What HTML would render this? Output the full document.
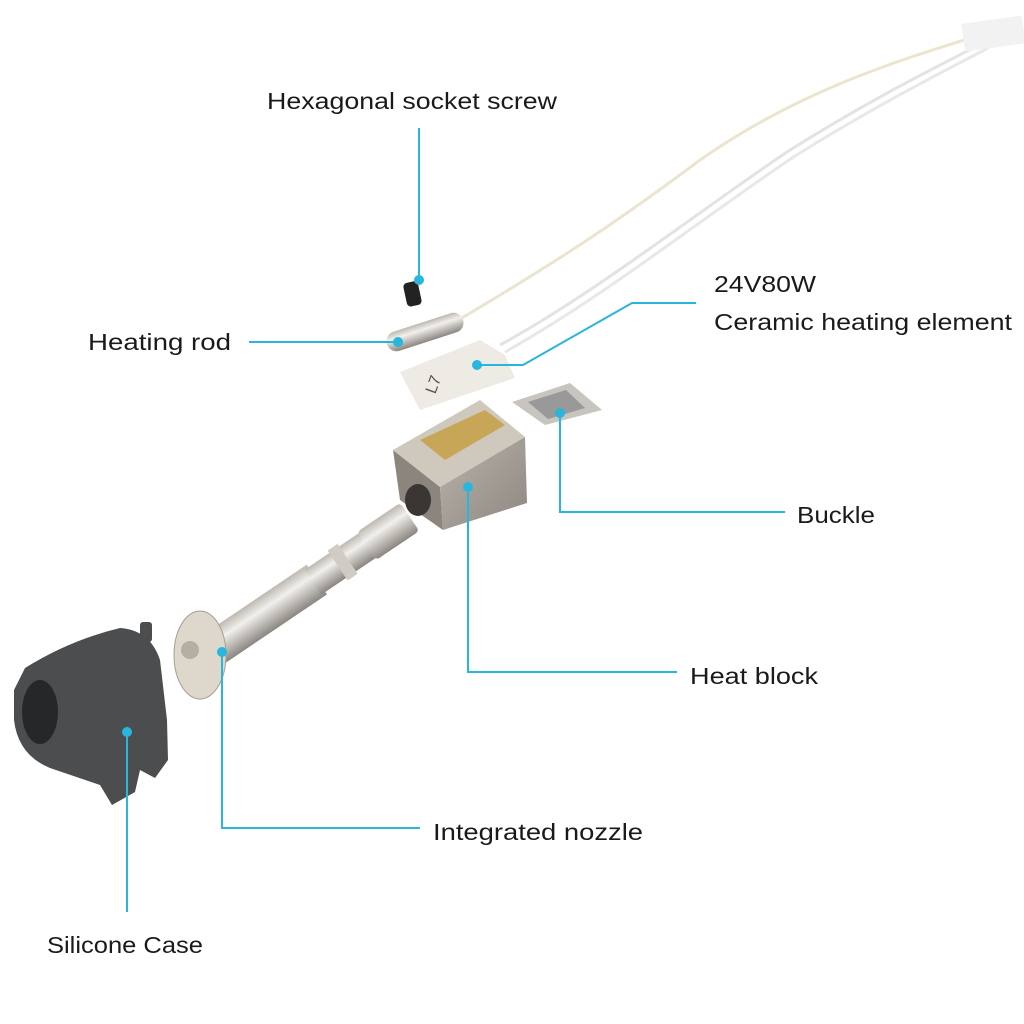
<!DOCTYPE html>
<html><head><meta charset="utf-8"><style>
html,body{margin:0;padding:0;background:#fff;}
svg{display:block}
text{font-family:"Liberation Sans",sans-serif;fill:#1a1a1a;font-size:23px}
</style></head><body>
<svg width="1024" height="1024" viewBox="0 0 1024 1024">
<defs>
<linearGradient id="metal" x1="0" y1="0" x2="0" y2="1">
<stop offset="0" stop-color="#bdb8b1"/><stop offset="0.35" stop-color="#f2f0ec"/><stop offset="1" stop-color="#8a857f"/></linearGradient>
<linearGradient id="blk" x1="0" y1="0" x2="1" y2="1">
<stop offset="0" stop-color="#b9b3ac"/><stop offset="1" stop-color="#8e8780"/></linearGradient>
</defs>
<!-- wires -->
<path d="M455 322 C560 260 620 220 700 160 C800 90 900 60 980 35" stroke="#ebe5cf" stroke-width="3" fill="none"/>
<path d="M500 345 C600 290 700 210 790 150 C870 100 930 70 985 42" stroke="#e3e3e3" stroke-width="3" fill="none"/>
<path d="M505 352 C605 296 705 216 795 156 C875 106 935 76 988 48" stroke="#e8e8e8" stroke-width="3" fill="none"/>
<rect x="963" y="20" width="61" height="28" fill="#f2f2f2" transform="rotate(-8 990 34)"/>
<!-- screw -->
<rect x="405" y="282" width="15" height="24" rx="4" fill="#222" transform="rotate(-12 412 294)"/>
<!-- heating rod -->
<rect x="385" y="322" width="80" height="20" rx="10" fill="url(#metal)" transform="rotate(-18 425 332)"/>
<!-- ceramic -->
<polygon points="400,372 480,340 505,355 515,378 420,410" fill="#eeebe4"/>
<text x="425" y="392" style="font-size:16px;fill:#555" transform="rotate(-70 432 386)">L7</text>
<!-- buckle -->
<polygon points="512,402 570,383 602,410 545,425" fill="#c8c4bf"/>
<polygon points="528,402 566,390 585,408 548,419" fill="#999"/>
<!-- heat block -->
<polygon points="393,450 400,500 443,530 440,487" fill="#8c857e"/>
<polygon points="393,450 440,487 525,437 480,400" fill="#cfc8bd"/>
<polygon points="420,440 445,460 505,425 485,410" fill="#c8a658"/>
<polygon points="440,487 525,437 527,503 443,530" fill="url(#blk)"/>
<ellipse cx="418" cy="500" rx="13" ry="16" fill="#3a3633"/>
<!-- nozzle -->
<g transform="translate(205,655) rotate(-34)">
<rect x="10" y="-18" width="125" height="36" fill="url(#metal)"/>
<rect x="130" y="-15" width="70" height="30" fill="url(#metal)"/>
<rect x="160" y="-18" width="12" height="36" fill="#d0ccc5"/>
<rect x="195" y="-17" width="52" height="34" rx="4" fill="url(#metal)"/>
</g>
<ellipse cx="200" cy="655" rx="26" ry="44" fill="#ddd7cc" stroke="#a69f94"/>
<circle cx="190" cy="650" r="9" fill="#b5aea3"/>
<!-- silicone case -->
<path d="M25 668 Q70 640 120 628 Q150 630 160 660 L167 720 L168 760 L155 778 L140 770 L135 792 L112 805 L100 785 L50 768 Q18 755 14 720 L14 690 Z" fill="#4b4d4f"/>
<rect x="140" y="622" width="12" height="20" rx="3" fill="#4b4d4f"/>
<ellipse cx="40" cy="712" rx="18" ry="32" fill="#262729"/>
<!-- leader lines -->
<g stroke="#29b6dc" stroke-width="2" fill="none">
<path d="M419 128 V280"/>
<path d="M249 342 H398"/>
<path d="M696 303 H632 L523 365 H477"/>
<path d="M785 512 H560 V413"/>
<path d="M677 672 H468 V487"/>
<path d="M420 828 H222 V652"/>
<path d="M127 912 V732"/>
</g>
<g fill="#29b6dc">
<circle cx="419" cy="280" r="5"/><circle cx="398" cy="342" r="5"/><circle cx="477" cy="365" r="5"/>
<circle cx="560" cy="413" r="5"/><circle cx="468" cy="487" r="5"/><circle cx="222" cy="652" r="5"/><circle cx="127" cy="732" r="5"/>
</g>
<text x="267" y="109" textLength="290" lengthAdjust="spacingAndGlyphs">Hexagonal socket screw</text>
<text x="88" y="350" textLength="143" lengthAdjust="spacingAndGlyphs">Heating rod</text>
<text x="714" y="292" textLength="102" lengthAdjust="spacingAndGlyphs">24V80W</text>
<text x="714" y="330" textLength="298" lengthAdjust="spacingAndGlyphs">Ceramic heating element</text>
<text x="797" y="523" textLength="78" lengthAdjust="spacingAndGlyphs">Buckle</text>
<text x="690" y="684" textLength="128" lengthAdjust="spacingAndGlyphs">Heat block</text>
<text x="433" y="840" textLength="210" lengthAdjust="spacingAndGlyphs">Integrated nozzle</text>
<text x="47" y="953" textLength="156" lengthAdjust="spacingAndGlyphs">Silicone Case</text>
</svg>
</body></html>
